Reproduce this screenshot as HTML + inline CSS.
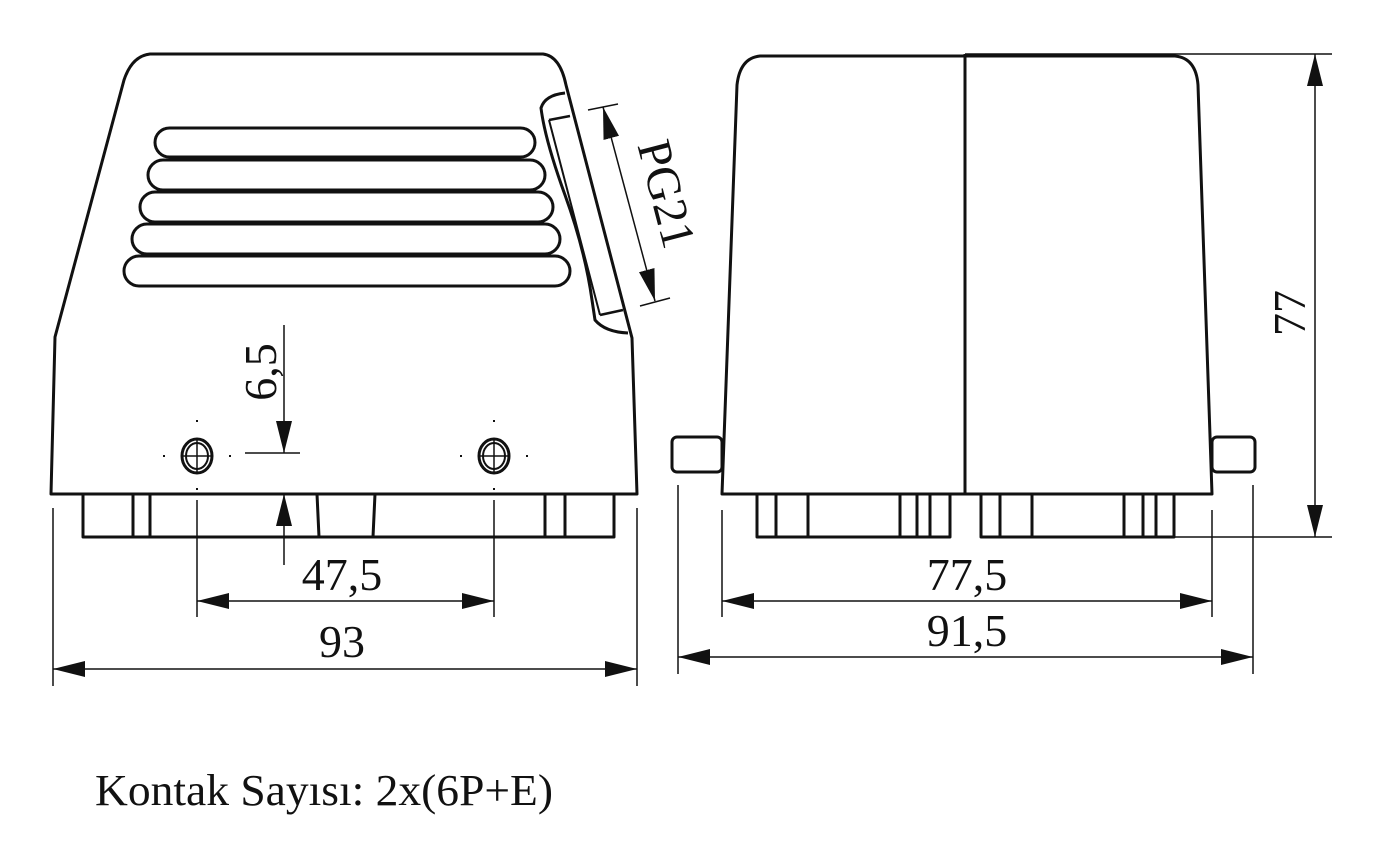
<!DOCTYPE html>
<html><head><meta charset="utf-8"><style>
html,body{margin:0;padding:0;background:#fff;}
svg{display:block;}
text{font-family:"Liberation Serif",serif;fill:#111;}
</style></head><body>
<svg width="1385" height="865" viewBox="0 0 1385 865" xmlns="http://www.w3.org/2000/svg">
<defs>
<marker id="a" viewBox="0 0 32 16" refX="32" refY="8" markerWidth="32" markerHeight="16" markerUnits="userSpaceOnUse" orient="auto"><path d="M0,0 L32,8 L0,16 Z" fill="#111"/></marker>
</defs>
<g fill="none" stroke="#111" stroke-width="3" stroke-linejoin="round">
<path d="M150,54 L543,54 Q560,56 566,85 L632,338 L637,494 L51,494 L55,337 L124,80 Q132,56 150,54 Z"/>
<rect x="155" y="128" width="380" height="29" rx="14.5"/>
<rect x="148" y="160" width="397" height="30" rx="15"/>
<rect x="140" y="192" width="413" height="30" rx="15"/>
<rect x="132" y="224" width="428" height="30" rx="15"/>
<rect x="124" y="256" width="446" height="30" rx="15"/>
<path d="M565,93 Q545,95 541,108 Q545,140 565,195 Q585,250 592,300 L595,320 Q605,332 628,333"/>
<path d="M549,120 L600,315" stroke-width="2"/>
<path d="M549,120 L570,116 M600,315 L623,310" stroke-width="2.5"/>
<path d="M83,494 L83,537 L614,537 L614,494 M133,494 L133,537 M150,494 L150,537 M317,494 L319,537 M375,494 L373,537 M545,494 L545,537 M565,494 L565,537"/>
<ellipse cx="197" cy="456" rx="15" ry="17"/><ellipse cx="197" cy="456" rx="11" ry="13" stroke-width="2"/>
<ellipse cx="494" cy="456" rx="15" ry="17"/><ellipse cx="494" cy="456" rx="11" ry="13" stroke-width="2"/>
</g>
<g stroke="#111" stroke-width="1.5" fill="none">
<path d="M182,456 L212,456 M197,439 L197,473 M479,456 L509,456 M494,439 L494,473"/>
<path d="M163,456 L165,456 M229,456 L231,456 M197,420 L197,422 M197,488 L197,490 M460,456 L462,456 M526,456 L528,456 M494,420 L494,422 M494,488 L494,490" stroke-width="2"/>
<path d="M284,325 L284,453" marker-end="url(#a)"/>
<path d="M284,565 L284,494" marker-end="url(#a)"/>
<path d="M245,453 L300,453"/>
<path d="M629,204 L603,107" marker-end="url(#a)"/>
<path d="M629,204 L655,301" marker-end="url(#a)"/>
<path d="M588,110 L618,104 M640,306 L670,298"/>
<path d="M197,500 L197,617 M494,500 L494,617"/>
<path d="M345,601 L197,601" marker-end="url(#a)"/>
<path d="M345,601 L494,601" marker-end="url(#a)"/>
<path d="M53,508 L53,686 M637,508 L637,686"/>
<path d="M345,669 L53,669" marker-end="url(#a)"/>
<path d="M345,669 L637,669" marker-end="url(#a)"/>
</g>
<text x="0" y="0" font-size="46" text-anchor="middle" transform="translate(276,372) rotate(-90)">6,5</text>
<text x="0" y="0" font-size="48" text-anchor="middle" transform="translate(651,198) rotate(75.4)">PG21</text>
<text x="342" y="590" font-size="46" text-anchor="middle">47,5</text>
<text x="342" y="657" font-size="46" text-anchor="middle">93</text>

<g fill="none" stroke="#111" stroke-width="3" stroke-linejoin="round">
<path d="M760,56 L1175,56 Q1196,58 1198,85 L1212,494 L722,494 L737,85 Q740,58 760,56 Z"/>
<path d="M965,54 L965,494"/>
<rect x="672" y="437" width="50" height="35" rx="5"/>
<rect x="1212" y="437" width="43" height="35" rx="5"/>
<path d="M757,494 L757,537 L950,537 L950,494 M776,494 L776,537 M808,494 L808,537 M900,494 L900,537 M917,494 L917,537 M930,494 L930,537"/>
<path d="M981,494 L981,537 L1174,537 L1174,494 M1000,494 L1000,537 M1032,494 L1032,537 M1124,494 L1124,537 M1143,494 L1143,537 M1156,494 L1156,537"/>
</g>
<g stroke="#111" stroke-width="1.5" fill="none">
<path d="M965,54 L1332,54 M1174,537 L1332,537"/>
<path d="M1315,300 L1315,54" marker-end="url(#a)"/>
<path d="M1315,300 L1315,537" marker-end="url(#a)"/>
<path d="M722,510 L722,617 M1212,510 L1212,617"/>
<path d="M967,601 L722,601" marker-end="url(#a)"/>
<path d="M967,601 L1212,601" marker-end="url(#a)"/>
<path d="M678,485 L678,674 M1253,485 L1253,674"/>
<path d="M967,657 L678,657" marker-end="url(#a)"/>
<path d="M967,657 L1253,657" marker-end="url(#a)"/>
</g>
<text x="0" y="0" font-size="46" text-anchor="middle" transform="translate(1305,313) rotate(-90)">77</text>
<text x="967" y="590" font-size="46" text-anchor="middle">77,5</text>
<text x="967" y="646" font-size="46" text-anchor="middle">91,5</text>

<text x="95" y="805" font-size="44" textLength="458" lengthAdjust="spacingAndGlyphs">Kontak Sayısı: 2x(6P+E)</text>
</svg>
</body></html>
